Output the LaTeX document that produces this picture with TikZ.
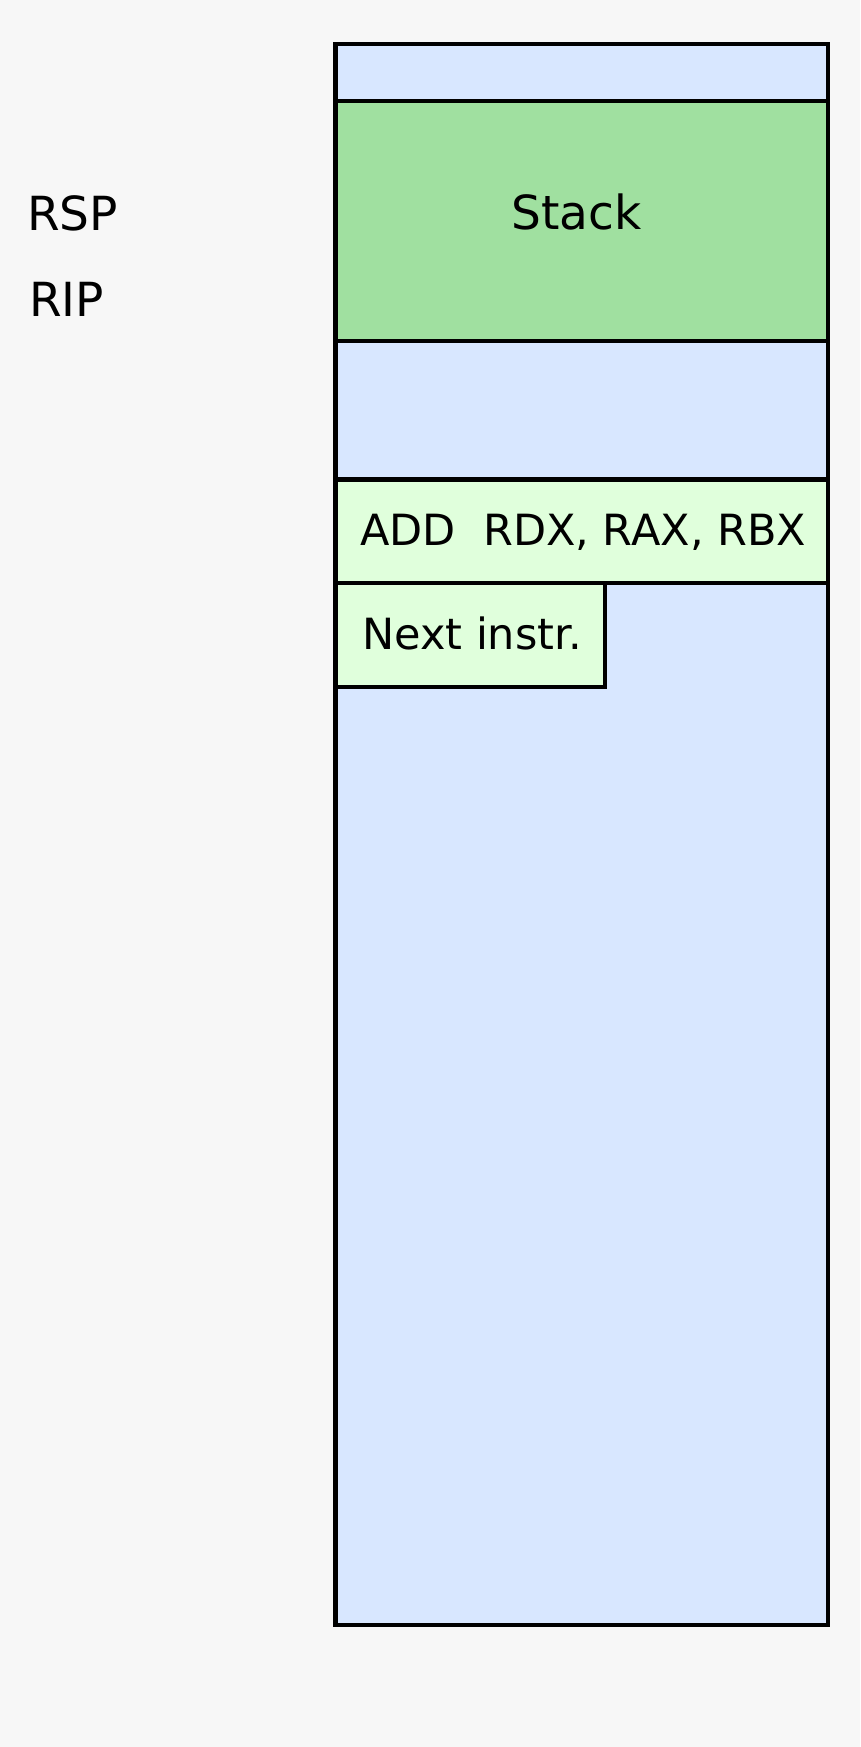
\documentclass[tikz,border=0pt]{standalone}
\usepackage{fontspec}
\setmainfont{DejaVu Sans}
\definecolor{bgc}{HTML}{F7F7F7}
\definecolor{memblue}{HTML}{D8E7FF}
\definecolor{stackgreen}{HTML}{A0E0A0}
\definecolor{instrgreen}{HTML}{E0FFDC}
\tikzset{
  box/.style={draw=black, line width=4.5pt, inner sep=0pt, outer sep=0pt, anchor=north west},
  txt/.style={inner sep=0pt, anchor=base west, text=black},
  big/.style={font=\fontsize{47}{56}\selectfont},
  small/.style={font=\fontsize{43}{51}\selectfont}
}
\begin{document}
\begin{tikzpicture}[x=1pt,y=-1pt]
\fill[bgc] (0,0) rectangle (860,1747);
\useasboundingbox (0,0) rectangle (860,1747);
% memory column
\node[box, fill=memblue, minimum width=492.7pt, minimum height=1581pt] (mem) at (335.3,44) {};
\node[box, fill=stackgreen, minimum width=492.7pt, minimum height=240.2pt] (stack) at (335.3,100.8) {};
\node[box, fill=instrgreen, minimum width=492.7pt, minimum height=103.5pt] (add) at (335.3,479.5) {};
\node[box, fill=instrgreen, minimum width=269.5pt, minimum height=104pt] (next) at (335.3,583) {};
% texts
\node[txt, big] (stacktxt) at (511,229.5) {Stack};
\node[txt, small] (addtxt) at (360,545) {ADD\hspace{0.636em}RDX, RAX, RBX};
\node[txt, small] (nexttxt) at (362,649) {Next instr.};
\node[txt, big] (rsp) at (27,230) {RSP};
\node[txt, big] (rip) at (29,316.5) {RIP};
\end{tikzpicture}
\end{document}
